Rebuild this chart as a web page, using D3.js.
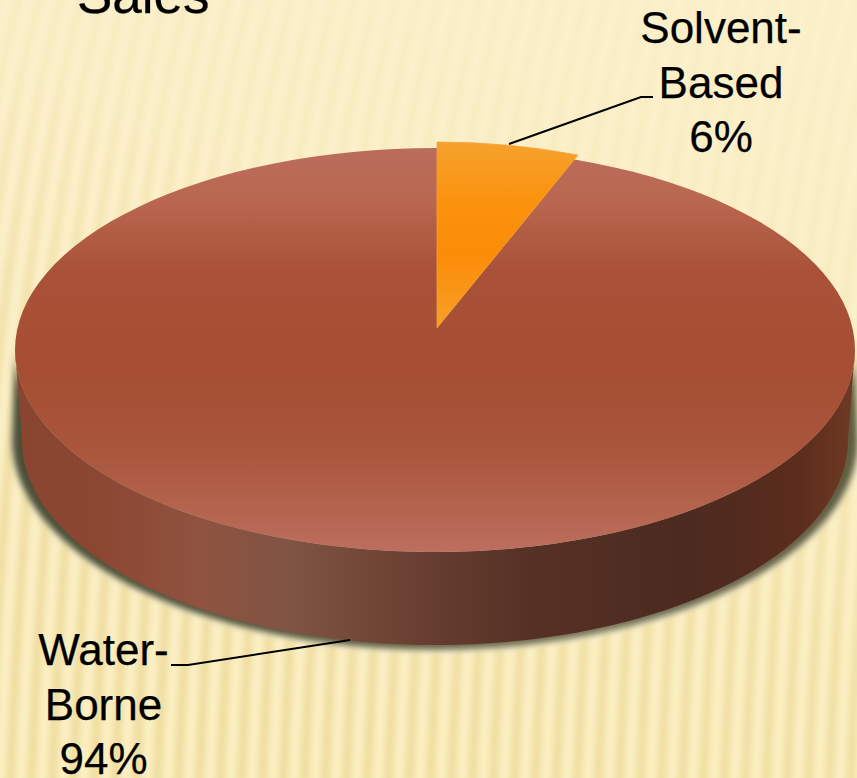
<!DOCTYPE html>
<html><head><meta charset="utf-8">
<script src="https://cdn.jsdelivr.net/npm/d3@7/dist/d3.min.js"></script>
<style>html,body{margin:0;padding:0;background:#fbefc8;overflow:hidden}svg{display:block}text{font-family:"Liberation Sans",Arial,sans-serif;fill:#000;stroke:#000;stroke-width:.25px}</style>
</head><body><svg id="c" width="857" height="778"></svg>
<script>
const categories = ["Solvent-Based", "Water-Borne"];
const values = [6, 94];
const percentLabels = ["6%", "94%"];
const labelLines = [["Solvent-", "Based", "6%"], ["Water-", "Borne", "94%"]];
const titleFragment = "Sales";

const W = 857, H = 778;
const svg = d3.select("#c");
const defs = svg.append("defs");
function grad(id, stops, coords) {
  const g = defs.append("linearGradient").attr("id", id).attr("gradientUnits", "userSpaceOnUse")
    .attr("x1", coords[0]).attr("y1", coords[1]).attr("x2", coords[2]).attr("y2", coords[3]);
  stops.forEach(s => g.append("stop").attr("offset", s[0]).attr("stop-color", s[1]));
}
function blur(id, sd) {
  defs.append("filter").attr("id", id).attr("x", "-10%").attr("y", "-10%").attr("width", "120%").attr("height", "120%")
    .append("feGaussianBlur").attr("stdDeviation", sd);
}
grad("bg", [[0, "#fcf1cd"], [.55, "#fcf0c8"], [1, "#fcf0c2"]], [0, 0, 0, H]);
grad("wall", [[0, "#8a4531"], [.1, "#8c4732"], [.22, "#8f5340"], [.33, "#805444"], [.45, "#6d4334"], [.62, "#553025"], [.8, "#4c2a20"], [.93, "#5a2c1c"], [1, "#703a24"]], [15, 0, 855, 0]);
grad("shadow", [[0, "#4b4f38"], [.35, "#5a5a40"], [.7, "#77745a"], [1, "#5f5c40"]], [0, 0, W, 0]);
blur("blur", 3.2);
blur("soft", 3);
const fadeG = defs.append("linearGradient").attr("id", "fade").attr("gradientUnits", "userSpaceOnUse")
  .attr("x1", 700).attr("y1", 0).attr("x2", 420).attr("y2", H);
[[0, .12], [.35, .3], [.7, .85], [1, 1]].forEach(s => fadeG.append("stop").attr("offset", s[0]).attr("stop-color", "#fff").attr("stop-opacity", s[1]));
defs.append("mask").attr("id", "stripeMask").append("rect").attr("width", W).attr("height", H).attr("fill", "url(#fade)");

// Background with fanned stripes
svg.append("rect").attr("width", W).attr("height", H).attr("fill", "url(#bg)");
const stripes = svg.append("g").attr("mask", "url(#stripeMask)").attr("fill", "none").attr("stroke", "#eedb9e").attr("stroke-width", 9).attr("filter", "url(#soft)");
d3.range(-200, 900, 21).forEach(x => {
  stripes.append("path").attr("d", `M${x + 95},-10 C${x + 40},190 ${x + 12},480 ${x},790`);
});

// Pie
const cx = 435, cy = 350, rx = 420, ry = 202;
const cxB = 435, cyB = 440, rxB = 413, ryB = 205;
const pie = d3.pie().sort(null).value(d => d)(values);
const solvent = pie[0];
const arc = d3.arc().innerRadius(0).outerRadius(rx);
const front = d3.range(90, 270.5, 2).map(a => a * Math.PI / 180);
const wallArea = d3.area()
  .x0(t => cx + rx * Math.sin(t)).y0(t => cy - ry * Math.cos(t))
  .x1(t => cxB + rxB * Math.sin(t)).y1(t => cyB - ryB * Math.cos(t));
const shadowArea = d3.area()
  .x0(t => cx + rx * Math.sin(t)).y0(t => cy - ry * Math.cos(t))
  .x1(t => cxB + (rxB + 10) * Math.sin(t)).y1(t => cyB - (ryB + 5) * Math.cos(t));

// Shadow with faint pale rim beneath the disc
svg.append("path").attr("d", shadowArea(front)).attr("fill", "#fff8d8").attr("opacity", .75)
  .attr("transform", "translate(0,3)").attr("filter", "url(#soft)");
svg.append("path").attr("d", shadowArea(front)).attr("fill", "url(#shadow)").attr("filter", "url(#blur)");
svg.append("path").attr("d", wallArea(front)).attr("fill", "url(#wall)");

// Top face: water-borne slice and the seat left by the pulled-out slice
const topG = svg.append("g").attr("transform", `translate(${cx},${cy}) scale(1,${ry / rx})`);
grad("topLocal", [[0, "#bb6d5c"], [.13, "#b9674f"], [.3, "#a95239"], [.55, "#a54e33"], [.75, "#a9563c"], [.9, "#b5644f"], [1, "#bd6e5f"]], [0, -rx, 0, rx]);
topG.append("path").attr("d", arc({startAngle: solvent.startAngle, endAngle: pie[1].endAngle})).attr("fill", "url(#topLocal)");

// Pulled-out solvent slice
const wedgeRx = 383, wedgeRy = 186;
const wedgeArc = d3.arc().innerRadius(0).outerRadius(wedgeRx);
grad("wedgeLocal", [[0, "#f5a22e"], [.3, "#fb930f"], [.6, "#fb8c08"], [1, "#f8a026"]], [0, -wedgeRx, 0, 0]);
svg.append("g").attr("transform", `translate(437,328) scale(1,${wedgeRy / wedgeRx})`)
  .append("path").datum(solvent).attr("d", wedgeArc).attr("fill", "url(#wedgeLocal)")
  .attr("stroke", "#f6a63a").attr("stroke-width", 1);

// Leader lines
const leaders = [[[509, 144], [641, 97], [653, 97]], [[350, 640], [188, 665], [171, 665]]];
const line = d3.line();
svg.selectAll("path.l").data(leaders).join("path").attr("class", "l").attr("d", line)
  .attr("fill", "none").attr("stroke", "#000").attr("stroke-width", 2);

// Labels
const labelPos = [[721, 43], [103.5, 665]];
labelLines.forEach((lines, i) => {
  const t = svg.append("text").attr("text-anchor", "middle").attr("font-size", 44);
  lines.forEach((s, j) => t.append("tspan").attr("x", labelPos[i][0]).attr("y", labelPos[i][1] + j * 54.5).text(s));
});
svg.append("text").attr("x", 77).attr("y", 13).attr("font-size", 53).text(titleFragment);
</script></body></html>
